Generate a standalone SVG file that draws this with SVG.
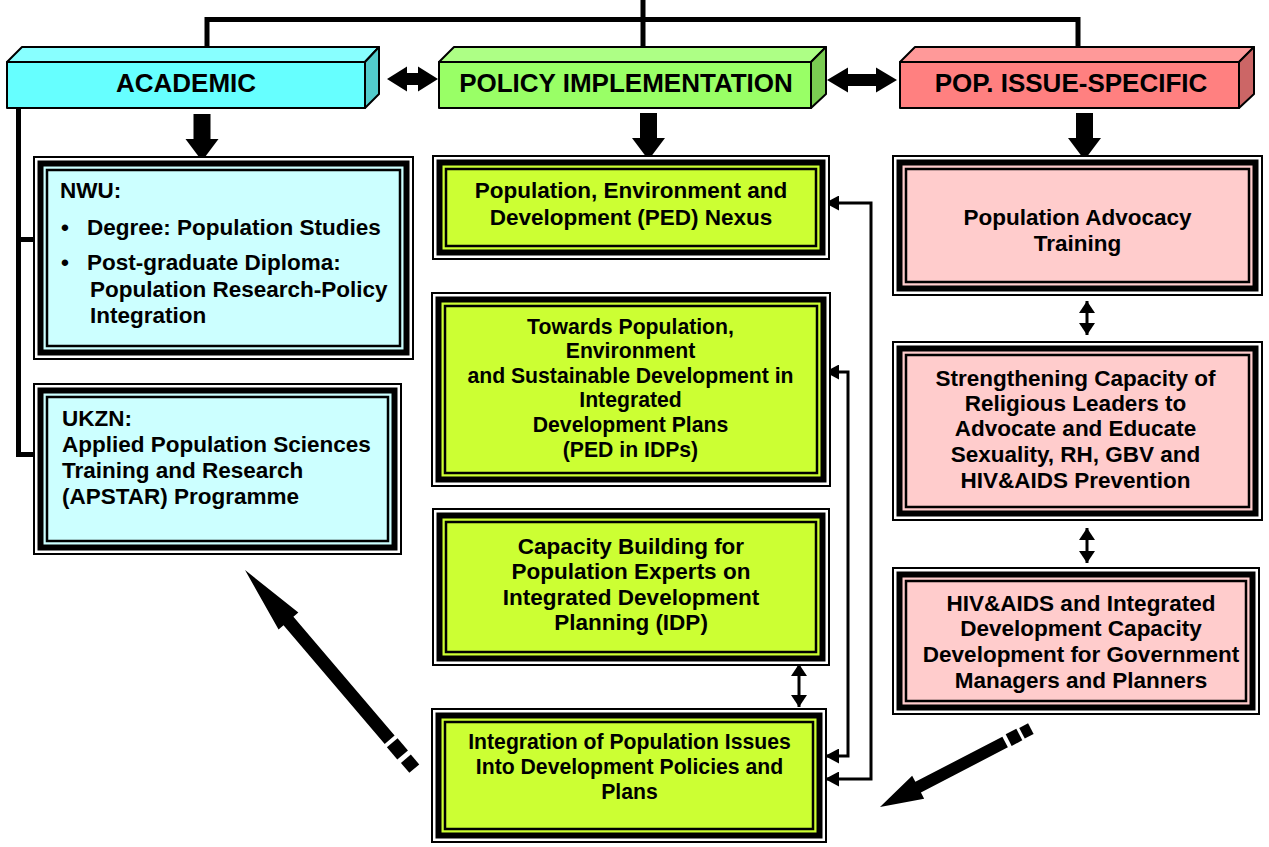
<svg xmlns="http://www.w3.org/2000/svg" width="1269" height="847" viewBox="0 0 1269 847">
<style>
.hd{font-family:"Liberation Sans",Arial,sans-serif;font-weight:bold;font-size:26px;text-anchor:middle;fill:#000}
.tx{font-family:"Liberation Sans",Arial,sans-serif;font-weight:bold;font-size:22.5px;text-anchor:middle;fill:#000}
.sm{font-size:21.2px}
.tl{text-anchor:start}
.o{fill:#fff;stroke:#000;stroke-width:2}
.k{stroke:#000;stroke-width:6}
.n{fill:none;stroke:#000;stroke-width:2.5}
.hf{stroke:#000;stroke-width:2;stroke-linejoin:round}
.ln{fill:none;stroke:#000;stroke-width:5}
.th{fill:none;stroke:#000;stroke-width:3}
.cy{fill:#CCFFFF}.gr{fill:#CCFF33}.pk{fill:#FFCCCC}
</style>
<defs>
<marker id="ah" viewBox="0 0 14 15" refX="14" refY="7.5" markerWidth="14" markerHeight="15" markerUnits="userSpaceOnUse" orient="auto-start-reverse"><path d="M0,0 L14,7.5 L0,15 z" fill="#000"/></marker>
<marker id="ah2" viewBox="0 0 12 16" refX="12" refY="8" markerWidth="12" markerHeight="16" markerUnits="userSpaceOnUse" orient="auto-start-reverse"><path d="M0,0 L12,8 L0,16 z" fill="#000"/></marker>
<path id="blk" d="M-8.5,-47 H8.5 V-22 H16.5 L0,0 L-16.5,-22 H-8.5 Z" fill="#000"/>
</defs>

<g id="connectors">
<path class="ln" d="M643,0 V52"/>
<path class="ln" d="M207,52 V19.5 H1078 V52"/>
<path class="ln" d="M18.5,108 V454.5 H34"/>
<path class="ln" d="M18.5,239.5 H34"/>
<path d="M387,79 L407,66.5 L407,73 L418,73 L418,66.5 L438,79 L418,91.5 L418,85 L407,85 L407,91.5 Z" fill="#000"/>
<path d="M827,80 L848,67.5 L848,74 L876,74 L876,67.5 L897,80 L876,92.5 L876,86 L848,86 L848,92.5 Z" fill="#000"/>
<use href="#blk" x="202" y="161"/>
<use href="#blk" x="648.5" y="160"/>
<use href="#blk" x="1084.5" y="160"/>
<path class="th" d="M1087,301 V335" marker-start="url(#ah2)" marker-end="url(#ah2)"/>
<path class="th" d="M1087,528 V563" marker-start="url(#ah2)" marker-end="url(#ah2)"/>
<path class="th" d="M799,664 V707" marker-start="url(#ah2)" marker-end="url(#ah2)"/>
<path class="th" d="M825,203 H871 V779 H825" marker-start="url(#ah)" marker-end="url(#ah)"/>
<path class="th" d="M825,372 H848 V756 H825" marker-start="url(#ah)" marker-end="url(#ah)"/>
<g transform="translate(245,570) rotate(49.56)" fill="#000">
<path d="M0,0 L67,-13 L67,-6.5 L223,-6.5 L223,6.5 L67,6.5 L67,13 Z"/>
<rect x="227" y="-7" width="16" height="14"/>
<rect x="248" y="-6.5" width="13" height="13"/>
</g>
<g transform="translate(880,807) rotate(-27.46)" fill="#000">
<path d="M0,0 L43,-13 L43,-6 L141,-6 L141,6 L43,6 L43,13 Z"/>
<rect x="145" y="-6.5" width="12" height="13"/>
<rect x="160" y="-6" width="10" height="12"/>
</g>
</g>

<g id="hdr-academic">
<polygon class="hf" points="7,62 22,47 379,47 365,62" fill="#88FFFF"/>
<polygon class="hf" points="365,62 379,47 379,94 365,108" fill="#52CCCC"/>
<rect class="hf" x="7" y="62" width="358" height="46" fill="#66FFFF"/>
<text class="hd" x="186" y="92">ACADEMIC</text>
</g>
<g id="hdr-policy">
<polygon class="hf" points="439,62 454,47 826,47 811,62" fill="#ADFF85"/>
<polygon class="hf" points="811,62 826,47 826,94 811,108" fill="#7ACC52"/>
<rect class="hf" x="439" y="62" width="372" height="46" fill="#99FF66"/>
<text class="hd" x="626" y="92">POLICY IMPLEMENTATION</text>
</g>
<g id="hdr-pop">
<polygon class="hf" points="900,62 915,47 1254,47 1239,62" fill="#FF9999"/>
<polygon class="hf" points="1239,62 1254,47 1254,94 1239,108" fill="#CC6666"/>
<rect class="hf" x="900" y="62" width="339" height="46" fill="#FF8080"/>
<text class="hd" x="1071" y="92">POP. ISSUE-SPECIFIC</text>
</g>

<g id="nwu">
<rect class="o" x="34" y="157" width="379" height="202"/>
<rect class="k cy" x="40.5" y="163.5" width="366" height="189"/>
<rect class="n" x="47" y="170" width="353" height="176"/>
<text class="tx tl" x="60" y="198">NWU:</text>
<text class="tx tl" x="61" y="235">•</text>
<text class="tx tl" x="87" y="235">Degree: Population Studies</text>
<text class="tx tl" x="61" y="270">•</text>
<text class="tx tl" x="87" y="270">Post-graduate Diploma:</text>
<text class="tx tl" x="90" y="297">Population Research-Policy</text>
<text class="tx tl" x="90" y="323">Integration</text>
</g>
<g id="ukzn">
<rect class="o" x="34" y="384" width="367" height="170"/>
<rect class="k cy" x="40.5" y="390.5" width="354" height="157"/>
<rect class="n" x="47" y="397" width="341" height="144"/>
<text class="tx tl" x="62" y="426">UKZN:</text>
<text class="tx tl" x="62" y="452">Applied Population Sciences</text>
<text class="tx tl" x="62" y="478">Training and Research</text>
<text class="tx tl" x="62" y="504">(APSTAR) Programme</text>
</g>

<g id="ped">
<rect class="o" x="433" y="156" width="396" height="103"/>
<rect class="k gr" x="439.5" y="162.5" width="383" height="90"/>
<rect class="n" x="446" y="169" width="370" height="77"/>
<text class="tx" x="631" y="197.5">Population, Environment and</text>
<text class="tx" x="631" y="224.5">Development (PED) Nexus</text>
</g>
<g id="towards">
<rect class="o" x="432" y="293" width="398" height="193"/>
<rect class="k gr" x="438.5" y="299.5" width="385" height="180"/>
<rect class="n" x="445" y="306" width="372" height="167"/>
<text class="tx sm" x="630.5" y="334">Towards Population,</text>
<text class="tx sm" x="630.5" y="358">Environment</text>
<text class="tx sm" x="630.5" y="383">and Sustainable Development in</text>
<text class="tx sm" x="630.5" y="407">Integrated</text>
<text class="tx sm" x="630.5" y="432">Development Plans</text>
<text class="tx sm" x="630.5" y="457">(PED in IDPs)</text>
</g>
<g id="capacity">
<rect class="o" x="433" y="509" width="396" height="156"/>
<rect class="k gr" x="439.5" y="515.5" width="383" height="143"/>
<rect class="n" x="446" y="522" width="370" height="130"/>
<text class="tx" x="631" y="554">Capacity Building for</text>
<text class="tx" x="631" y="579">Population Experts on</text>
<text class="tx" x="631" y="605">Integrated Development</text>
<text class="tx" x="631" y="630">Planning (IDP)</text>
</g>
<g id="integration">
<rect class="o" x="432" y="709" width="394" height="133"/>
<rect class="k gr" x="438.5" y="715.5" width="381" height="120"/>
<rect class="n" x="445" y="722" width="368" height="107"/>
<text class="tx sm" x="629.5" y="749">Integration of Population Issues</text>
<text class="tx sm" x="629.5" y="774">Into Development Policies and</text>
<text class="tx sm" x="629.5" y="799">Plans</text>
</g>

<g id="advocacy">
<rect class="o" x="893" y="156" width="369" height="139"/>
<rect class="k pk" x="899.5" y="162.5" width="356" height="126"/>
<rect class="n" x="906" y="169" width="343" height="113"/>
<text class="tx" x="1077.5" y="225">Population Advocacy</text>
<text class="tx" x="1077.5" y="251">Training</text>
</g>
<g id="religious">
<rect class="o" x="893" y="342" width="369" height="178"/>
<rect class="k pk" x="899.5" y="348.5" width="356" height="165"/>
<rect class="n" x="906" y="355" width="343" height="152"/>
<text class="tx" x="1075.5" y="385.5">Strengthening Capacity of</text>
<text class="tx" x="1075.5" y="410.5">Religious Leaders to</text>
<text class="tx" x="1075.5" y="435.5">Advocate and Educate</text>
<text class="tx" x="1075.5" y="461.5">Sexuality, RH, GBV and</text>
<text class="tx" x="1075.5" y="488">HIV&amp;AIDS Prevention</text>
</g>
<g id="hivaids">
<rect class="o" x="893" y="568" width="366" height="146"/>
<rect class="k pk" x="899.5" y="574.5" width="353" height="133"/>
<rect class="n" x="906" y="581" width="340" height="120"/>
<text class="tx" x="1081" y="610.5">HIV&amp;AIDS and Integrated</text>
<text class="tx" x="1081" y="635.5">Development Capacity</text>
<text class="tx" x="1081" y="661.5">Development for Government</text>
<text class="tx" x="1081" y="687.5">Managers and Planners</text>
</g>
</svg>
